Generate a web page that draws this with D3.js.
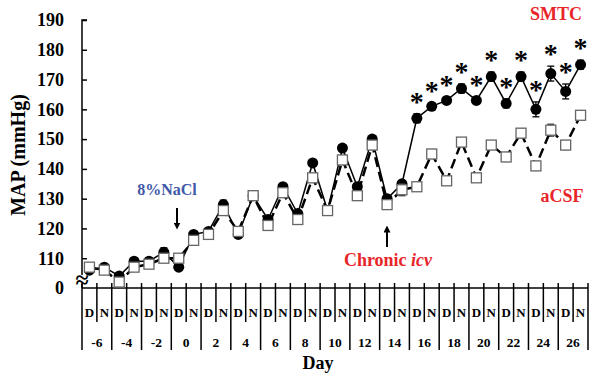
<!DOCTYPE html>
<html>
<head>
<meta charset="utf-8">
<script src="https://cdn.jsdelivr.net/npm/d3@7"></script>
<style>
  body { margin: 0; background: #fff; }
  text { font-family: "Liberation Serif", "Times New Roman", serif; font-weight: bold; }
</style>
</head>
<body>
<div id="chart"></div>
<script>
// Data (one value per D/N period)
const days = [-6, -4, -2, 0, 2, 4, 6, 8, 10, 12, 14, 16, 18, 20, 22, 24, 26];
const periods = ["D", "N"];
const smtc = [106, 107, 104, 109, 109, 112, 107, 118, 119, 128, 118, 131, 123, 134, 125, 142, 126,
              147, 134, 150, 130, 135, 157, 161, 163, 167, 163, 171, 162, 171, 160, 172, 166, 175];
const smtcErr = [1, 1, 1, 1, 1, 1.5, 1, 1, 1, 1.5, 1, 1, 1, 1, 1, 1, 1,
                 1, 1, 1, 1, 1, 1.5, 1, 1, 1.5, 1, 1.5, 1.5, 1.5, 2.5, 2.5, 2.5, 1.5];
const acsf = [107, 106, 102, 107, 108, 110, 110, 116, 118, 126, 119, 131, 121, 132, 123, 137, 126,
              143, 131, 148, 128, 133, 134, 145, 136, 149, 137, 148, 144, 152, 141, 153, 148, 158];
const acsfErr = [1, 1, 1, 1, 1, 1, 1, 1, 1, 1, 1, 1, 1, 1, 1.5, 1, 1.5,
                 1, 1, 1, 1.5, 2, 1, 1.5, 1, 1, 1, 1, 1.5, 1.5, 1.5, 2, 1.5, 1];
const sigCells = [22, 23, 24, 25, 26, 27, 28, 29, 30, 31, 32, 33];
const yTicks = [110, 120, 130, 140, 150, 160, 170, 180, 190];

const W = 600, H = 382;
const svg = d3.select("#chart").append("svg").attr("width", W).attr("height", H);

const cells = [];
days.forEach(d => periods.forEach(p => cells.push({ day: d, p: p })));

const x = d3.scaleBand().domain(d3.range(cells.length)).range([82, 588]).padding(0);
const bw = x.bandwidth();
const cx = i => x(i) + bw / 2;
const y = d3.scaleLinear().domain([100, 190]).range([288, 20]);

// Y axis
const yAxis = svg.append("g").attr("transform", "translate(82,0)")
  .call(d3.axisRight(y).tickValues(yTicks).tickSize(5).tickFormat(""));
yAxis.select(".domain").attr("d", `M5,${y(190)}H0V288`).attr("stroke", "#000").attr("stroke-width", 1.5);
yAxis.selectAll(".tick line").attr("stroke-width", 1.5);

svg.selectAll(".ylab").data(yTicks.concat([100])).join("text")
  .attr("x", 64).attr("y", d => y(d)).attr("dy", "0.35em")
  .attr("text-anchor", "end").attr("font-size", 18)
  .text(d => d === 100 ? "0" : d);

// axis break
svg.append("rect").attr("x", 75).attr("y", 275).attr("width", 14).attr("height", 9).attr("fill", "#fff");
svg.append("text").attr("x", 82).attr("y", 288).attr("text-anchor", "middle")
  .attr("font-size", 24).text("≈");

svg.append("text")
  .attr("transform", "translate(25,155) rotate(-90)")
  .attr("text-anchor", "middle").attr("font-size", 20).text("MAP (mmHg)");

// X table
const tbl = svg.append("g").attr("stroke", "#000").attr("stroke-width", 1.5);
tbl.append("line").attr("x1", 82).attr("x2", 588).attr("y1", 288).attr("y2", 288);
d3.range(cells.length + 1).forEach(i => {
  const xx = i === cells.length ? 588 : x(i);
  tbl.append("line").attr("x1", xx).attr("x2", xx).attr("y1", 283)
    .attr("y2", i % 2 === 0 ? 350 : 322);
});
svg.selectAll(".cell").data(cells).join("text")
  .attr("x", (d, i) => cx(i)).attr("y", 317).attr("text-anchor", "middle")
  .attr("font-size", 13).text(d => d.p);
svg.selectAll(".day").data(days).join("text")
  .attr("x", (d, i) => x(2 * i) + bw).attr("y", 347).attr("text-anchor", "middle")
  .attr("font-size", 13.5).text(d => d);
svg.append("text").attr("x", 318).attr("y", 369).attr("text-anchor", "middle")
  .attr("font-size", 18).text("Day");

// error bars
function errBars(vals, errs, col) {
  const g = svg.append("g").attr("stroke", col).attr("stroke-width", 1.3);
  vals.forEach((v, i) => {
    const x0 = cx(i), y1 = y(v + errs[i]), y2 = y(v - errs[i]);
    g.append("line").attr("x1", x0).attr("x2", x0).attr("y1", y1).attr("y2", y2);
    g.append("line").attr("x1", x0 - 3.5).attr("x2", x0 + 3.5).attr("y1", y1).attr("y2", y1);
    g.append("line").attr("x1", x0 - 3.5).attr("x2", x0 + 3.5).attr("y1", y2).attr("y2", y2);
  });
}

const line = d3.line().x((d, i) => cx(i)).y(d => y(d));

// SMTC
errBars(smtc, smtcErr, "#000");
svg.append("path").datum(smtc).attr("d", line)
  .attr("fill", "none").attr("stroke", "#000").attr("stroke-width", 1.5);
svg.selectAll(".dot").data(smtc).join("circle")
  .attr("cx", (d, i) => cx(i)).attr("cy", d => y(d)).attr("r", 5.5).attr("fill", "#000");

// aCSF
errBars(acsf, acsfErr, "#333");
svg.append("path").datum(acsf).attr("d", line)
  .attr("fill", "none").attr("stroke", "#000").attr("stroke-width", 2.5)
  .attr("stroke-dasharray", "10,5");
svg.selectAll(".sq").data(acsf).join("rect")
  .attr("x", (d, i) => cx(i) - 5).attr("y", d => y(d) - 5)
  .attr("width", 10).attr("height", 10)
  .attr("fill", "#fff").attr("stroke", "#666").attr("stroke-width", 1.3);

// significance stars
svg.selectAll(".star").data(sigCells).join("text")
  .attr("x", i => cx(i)).attr("y", i => y(smtc[i] + smtcErr[i]) - 3)
  .attr("text-anchor", "middle").attr("font-size", 28).attr("fill", "#000")
  .text("*");

// annotations
svg.append("text").attr("x", 556).attr("y", 20).attr("text-anchor", "middle")
  .attr("font-size", 18).attr("fill", "#e8262a").text("SMTC");
svg.append("text").attr("x", 562).attr("y", 202).attr("text-anchor", "middle")
  .attr("font-size", 18).attr("fill", "#e8262a").text("aCSF");
svg.append("text").attr("x", 167).attr("y", 195).attr("text-anchor", "middle")
  .attr("font-size", 16).attr("fill", "#4159a8").text("8%NaCl");
const chronic = svg.append("text").attr("x", 388).attr("y", 266).attr("text-anchor", "middle")
  .attr("font-size", 18).attr("fill", "#e8262a");
chronic.append("tspan").text("Chronic ");
chronic.append("tspan").style("font-style", "italic").text("icv");

// arrows
svg.append("defs").append("marker").attr("id", "ah")
  .attr("viewBox", "0 0 10 10").attr("refX", 5).attr("refY", 5)
  .attr("markerWidth", 3.5).attr("markerHeight", 3.5).attr("orient", "auto")
  .append("path").attr("d", "M0,0L10,5L0,10Z").attr("fill", "#000");
svg.append("line").attr("x1", 177).attr("x2", 177).attr("y1", 208).attr("y2", 226)
  .attr("stroke", "#000").attr("stroke-width", 2).attr("marker-end", "url(#ah)");
svg.append("line").attr("x1", 387).attr("x2", 387).attr("y1", 247).attr("y2", 229)
  .attr("stroke", "#000").attr("stroke-width", 2).attr("marker-end", "url(#ah)");
</script>
</body>
</html>
